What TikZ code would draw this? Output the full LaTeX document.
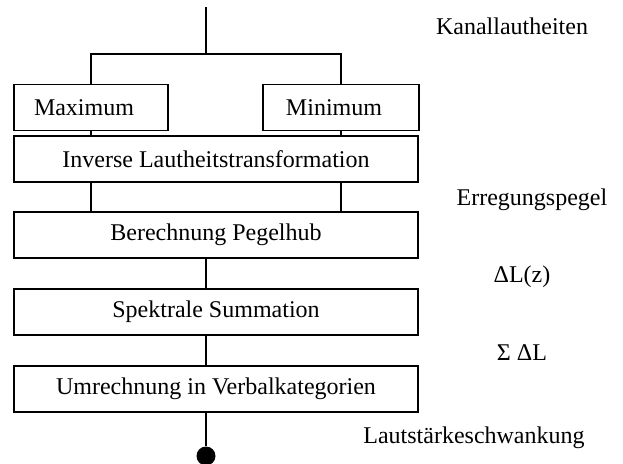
\documentclass[tikz,border=0pt]{standalone}
\usepackage{fontspec}
\setmainfont{Liberation Serif}
\usetikzlibrary {positioning}
\tikzset{
    block/.style={draw,line width=0.7pt,minimum height=23pt,inner sep=0pt,font=\fontsize{12}{14}\selectfont},
    sigtext/.style={font=\fontsize{12}{14}\selectfont,inner sep=0pt},
    wire/.style={line width=0.7pt}
}
\newcommand{\myBlock}[4]{
    \node[block,minimum width=#3] (#1) at #2 {#4};
}

\begin{document}
\begin{tikzpicture}[x=0.5pt,y=-0.5pt]
      \useasboundingbox (0,0) rectangle (623,463);

      \coordinate (in) at (206,7);
      \coordinate (split) at (206,54);

      \myBlock{max}{(91,107.5)}{77pt}{Maximum\kern7pt}
      \myBlock{min}{(341,107.5)}{78pt}{Minimum\kern7pt}

      \myBlock{inv}{(216,159)}{202pt}{Inverse Lautheitstransformation}
      \myBlock{ber}{(216,235)}{202pt}{Berechnung Pegelhub}
      \myBlock{spek}{(216,312)}{202pt}{Spektrale Summation}
      \myBlock{umr}{(216,389)}{202pt}{Umrechnung in Verbalkategorien}

      \node[circle,fill,inner sep=0pt,minimum size=9.5pt] (out) at (206,456) {};

      % signals
      \node[sigtext] (kan) at (512,26) {Kanallautheiten};
      \node[sigtext] (err) at (532,200) {Erregungspegel};
      \node[sigtext] (dl) at (522,277) {ΔL(z)};
      \node[sigtext] (sdl) at (522,353) {Σ ΔL};
      \node[sigtext] (lsw) at (474,438) {Lautstärkeschwankung};

      \draw[wire] (in) -- (split);
      \draw[wire] (max.north) |- (split) -| (min.north);
      \draw[wire] (max.south) -- (max.south |- inv.north);
      \draw[wire] (min.south) -- (min.south |- inv.north);
      \draw[wire] (inv.south -| max) -- (ber.north -| max);
      \draw[wire] (inv.south -| min) -- (ber.north -| min);
      \draw[wire] (ber.south -| in) -- (spek.north -| in);
      \draw[wire] (spek.south -| in) -- (umr.north -| in);
      \draw[wire] (umr.south -| in) -- (out);
  \end{tikzpicture}
\end{document}
